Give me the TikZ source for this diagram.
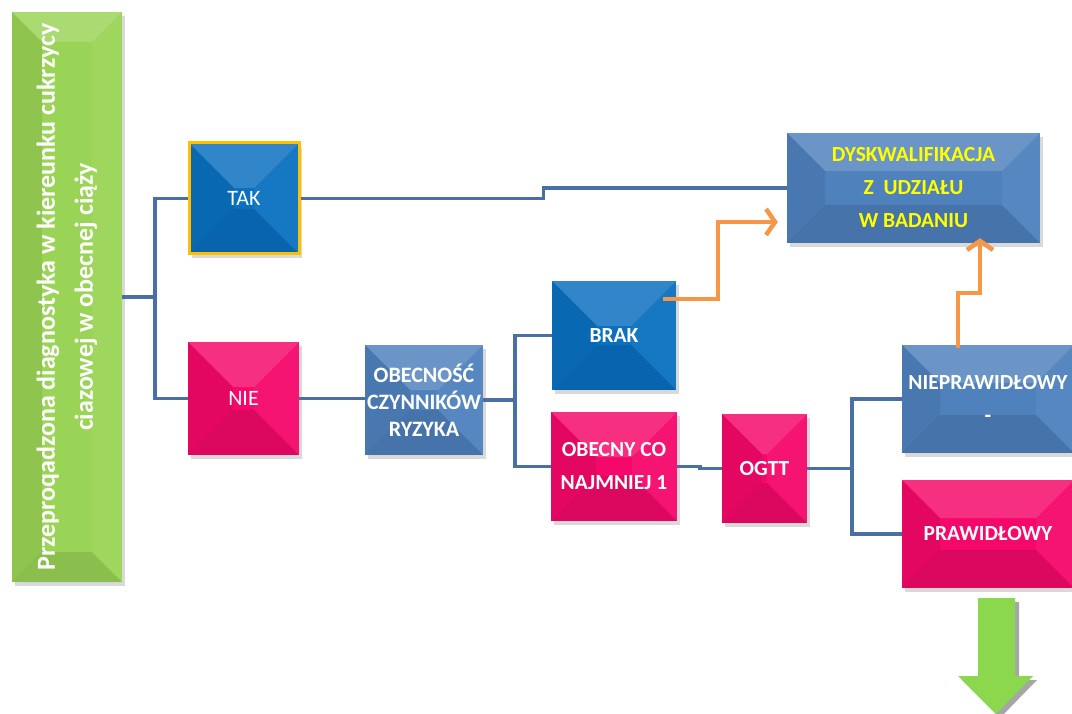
\documentclass[tikz,border=0pt]{standalone}
\usepackage{fontspec}
\setmainfont{Carlito}
\usetikzlibrary{arrows.meta,shadows,calc}
\definecolor{cblue}{HTML}{0A70C0}
\definecolor{csteel}{HTML}{4F81BD}
\definecolor{cpink}{HTML}{F5086A}
\definecolor{cgreen}{HTML}{9AD456}
\definecolor{cline}{HTML}{4A6FA5}
\definecolor{corange}{HTML}{F79646}
\definecolor{cgold}{HTML}{FFC000}
\definecolor{cyel}{HTML}{FFFF00}
\newcommand\bevelpic[1]{%
  \def\pb{path picture bounding box}%
  \fill[white,opacity=.16] (\pb.north west) -- (\pb.north east) -- ([xshift=-#1pt,yshift=-#1pt]\pb.north east) -- ([xshift=#1pt,yshift=-#1pt]\pb.north west) -- cycle;
  \fill[black,opacity=.07] (\pb.north west) -- (\pb.south west) -- ([xshift=#1pt,yshift=#1pt]\pb.south west) -- ([xshift=#1pt,yshift=-#1pt]\pb.north west) -- cycle;
  \fill[black,opacity=.10] (\pb.south west) -- (\pb.south east) -- ([xshift=-#1pt,yshift=#1pt]\pb.south east) -- ([xshift=#1pt,yshift=#1pt]\pb.south west) -- cycle;
  \fill[white,opacity=.05] (\pb.north east) -- (\pb.south east) -- ([xshift=-#1pt,yshift=#1pt]\pb.south east) -- ([xshift=-#1pt,yshift=-#1pt]\pb.north east) -- cycle;
}
\tikzset{
  box/.style={inner sep=0pt, align=center, text=white,
    drop shadow={opacity=0.3,shadow xshift=3pt,shadow yshift=-4pt},
    path picture={\bevelpic{#1}}},
  box/.default=45,
  bf/.style={font=\fontsize{21.5}{33}\selectfont\bfseries},
  rg/.style={font=\fontsize{22}{26}\selectfont},
  conn/.style={draw=cline, line width=3.5pt},
  oarr/.style={draw=corange, line width=4.5pt, -{Straight Barb[length=9pt,width=26pt]}},
}
\begin{document}
\begin{tikzpicture}[x=1pt,y=-1pt]
\useasboundingbox (0,0) rectangle (1072,714);
% boxes
\node[box=30, fill=cgreen, minimum width=110pt, minimum height=570pt] (g) at (67,297) {};
\node[rotate=90, text=white, align=center, font=\fontsize{26}{38}\selectfont\bfseries] (gt) at (g.center) {Przeproqadzona diagnostyka w kiereunku cukrzycy\\ciazowej w obecnej ciąży};
\node[box, fill=cblue, draw=cgold, line width=3pt, minimum width=110pt, minimum height=111pt, rg] (tak) at (244,198.5) {TAK};
\node[box, fill=cpink, minimum width=111pt, minimum height=113pt, rg] (nie) at (243.5,398.5) {NIE};
\node[box, fill=csteel, minimum width=118pt, minimum height=110pt, font=\fontsize{22}{27}\selectfont\bfseries] (obe) at (424,400) {OBECNOŚĆ\\CZYNNIKÓW\\RYZYKA};
\node[box, fill=cblue, minimum width=124pt, minimum height=109pt, bf] (brak) at (614,335.5) {BRAK};
\node[box, fill=cpink, minimum width=126pt, minimum height=109pt, bf] (obc) at (614,466.5) {OBECNY CO\\NAJMNIEJ 1};
\node[box=40, fill=cpink, minimum width=85pt, minimum height=109pt, bf] (ogtt) at (764.5,468.5) {OGTT};
\node[box=38, fill=csteel, minimum width=253pt, minimum height=110pt, bf, text=cyel] (dys) at (913.5,188) {DYSKWALIFIKACJA\\Z\ \ UDZIAŁU\\W BADANIU};
\node[box=38, fill=csteel, minimum width=172pt, minimum height=108pt, bf] (niep) at (988,399) {NIEPRAWIDŁOWY\\-};
\node[box=38, fill=cpink, minimum width=172pt, minimum height=108pt, bf] (praw) at (988,534) {PRAWIDŁOWY};
% connectors
\draw[conn] (g.east) -- ++(33,0);
\draw[conn] (tak.west) -| ($(g.east)+(33,0)$) |- (nie.west);
\draw[conn] (tak.east) -- ++(243,0) |- (dys.west);
\draw[conn] (nie.east) -- (nie.east -| obe.west);
\draw[conn] (obe.east) -- ++(32,0);
\draw[conn] (brak.west) -| ($(obe.east)+(32,0)$) |- (obc.west);
\draw[conn] (obc.east) -- ++(23,0) |- (ogtt.west);
\draw[conn] (ogtt.east) -- ++(45,0);
\draw[conn] (niep.west) -| ($(ogtt.east)+(45,0)$) |- (praw.west);
% orange arrows
\draw[oarr] ([xshift=-13pt,yshift=-18pt]brak.north east) -| ([xshift=-69pt,yshift=-34pt]dys.west) -- ([xshift=-9pt,yshift=-34pt]dys.west);
\draw[oarr] ([xshift=56pt,yshift=-3pt]niep.north west) -- ++(0,-55) -| ([xshift=66.5pt,yshift=5pt]dys.south);
% green down arrow
\fill[gray!70] (982,602) -- (1019,602) -- (1019,680) -- (1037,680) -- (1000,718) -- (962,680) -- (982,680) -- cycle;
\fill[cgreen!90!green] (978,598) -- (1015,598) -- (1015,676) -- (1033,676) -- (996,714) -- (958,676) -- (978,676) -- cycle;
\end{tikzpicture}
\end{document}
